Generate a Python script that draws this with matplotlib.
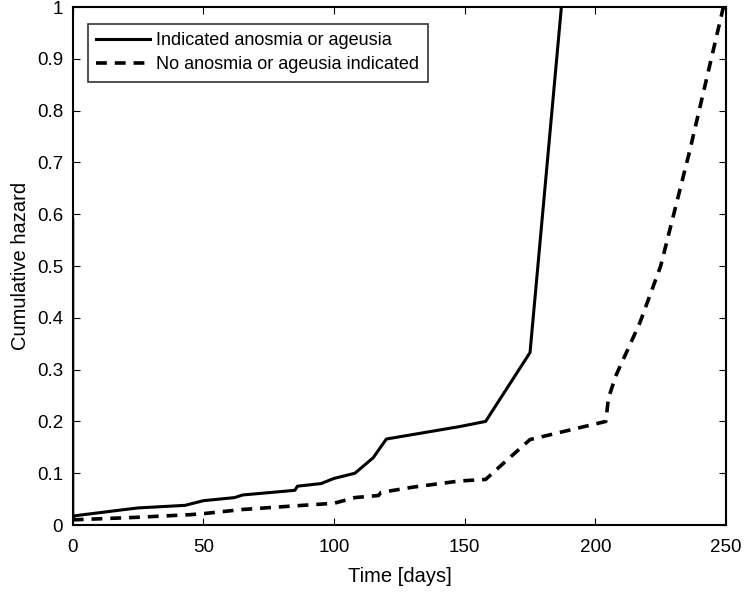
import numpy as np
import matplotlib.pyplot as plt

plt.rcParams['font.family'] = ['Liberation Sans', 'DejaVu Sans']

# Indicated anosmia or ageusia (solid)
t_yes = [0, 0, 1, 20, 25, 43, 50, 62, 65, 85, 86, 95, 100, 108, 115, 120, 148, 158, 175, 187]
h_yes = [0.59, 0.015, 0.018, 0.03, 0.033, 0.038, 0.047, 0.053, 0.058, 0.067, 0.075, 0.08, 0.09, 0.1, 0.13, 0.166, 0.19, 0.2, 0.333, 1.0]

# No anosmia or ageusia indicated (dashed)
t_no = [0, 10, 25, 45, 50, 65, 85, 100, 108, 117, 118, 130, 148, 158, 165, 175, 204, 205, 208, 217, 225, 236, 249]
h_no = [0.01, 0.012, 0.015, 0.02, 0.022, 0.03, 0.037, 0.042, 0.053, 0.057, 0.063, 0.073, 0.085, 0.088, 0.12,
        0.165, 0.2, 0.245, 0.29, 0.39, 0.5, 0.72, 1.0]

xticks = [0, 50, 100, 150, 200, 250]
yticks = [0, 0.1, 0.2, 0.3, 0.4, 0.5, 0.6, 0.7, 0.8, 0.9, 1]

fig = plt.figure(figsize=(7.5, 5.95), dpi=100)
ax = fig.add_axes([0.097, 0.1176, 0.871, 0.8706])

ax.plot(t_yes, h_yes, 'k-', lw=2.2, label='Indicated anosmia or ageusia')
ax.plot(t_no, h_no, 'k--', lw=2.6, dashes=(3, 2.2), label='No anosmia or ageusia indicated')

ax.set_xlim(0, 250)
ax.set_ylim(0, 1)
ax.set_xticks(xticks)
ax.set_yticks(yticks)
ax.set_yticklabels(['0', '0.1', '0.2', '0.3', '0.4', '0.5', '0.6', '0.7', '0.8', '0.9', '1'])
ax.tick_params(direction='in', top=True, right=True, labelsize=13.5, length=5, width=0.8)
ax.tick_params(axis='x', pad=10)
ax.tick_params(axis='y', pad=7)
for s in ax.spines.values():
    s.set_linewidth(1.5)

ax.set_xlabel('Time [days]', fontsize=14.5, labelpad=8)
ax.set_ylabel('Cumulative hazard', fontsize=14.5, labelpad=5)

leg = ax.legend(loc='upper left', bbox_to_anchor=(0.023, 0.967), fontsize=13, frameon=True,
                fancybox=False, edgecolor='black', handlelength=3.0, borderpad=0.45,
                labelspacing=0.4, handletextpad=0.35, borderaxespad=0)
leg.get_frame().set_linewidth(1.2)

fig.savefig('out.png', dpi=100)
